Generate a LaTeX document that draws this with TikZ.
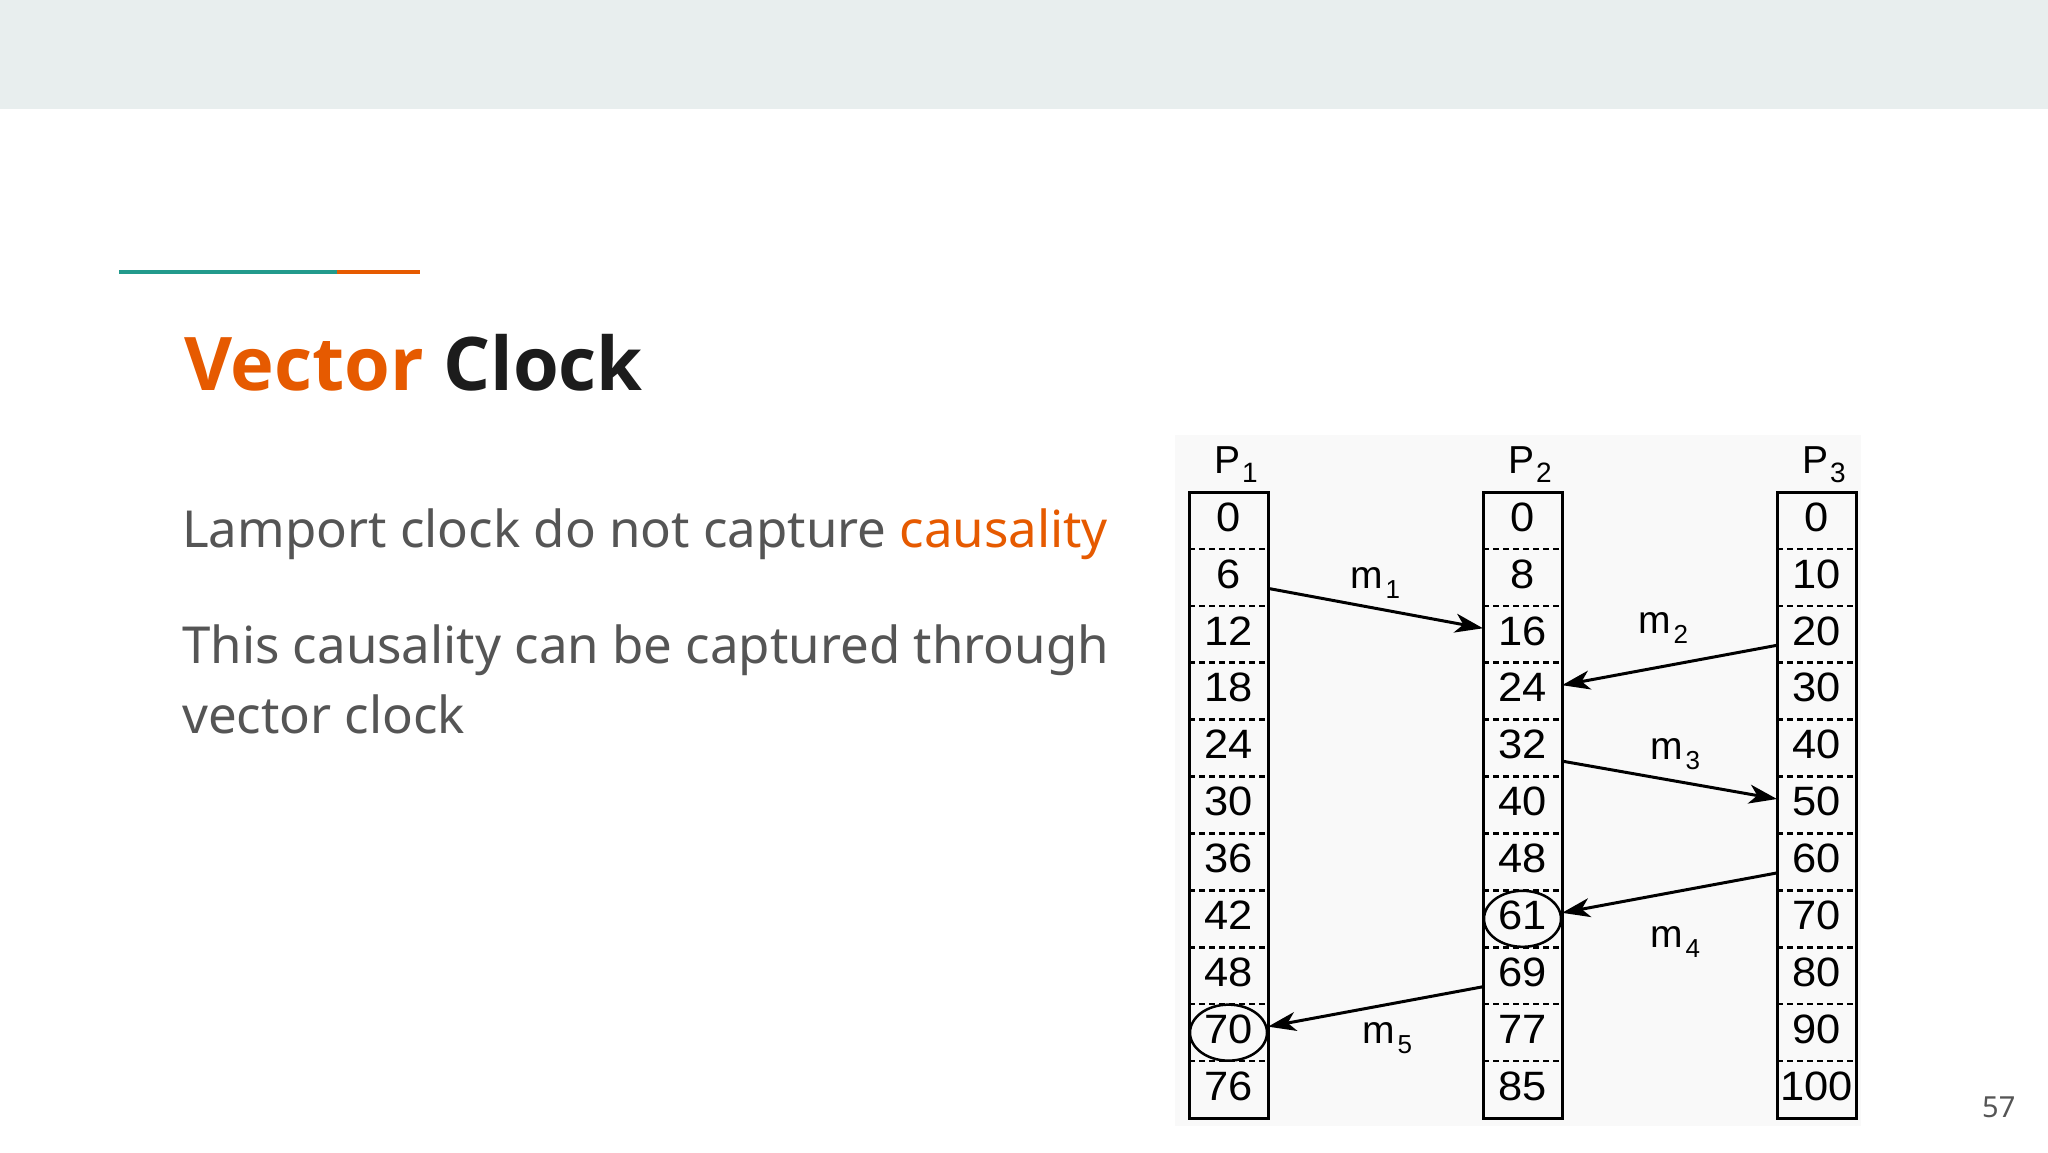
\documentclass[tikz,border=0pt]{standalone}
\usepackage{fontspec}
\setmainfont{Noto Sans}
\newfontfamily\titlefont{Open Sans}
\newfontfamily\diagfont{Liberation Sans}[FakeStretch=1.06]
\newfontfamily\labfont{Liberation Sans}
\usetikzlibrary{arrows.meta,calc,shapes.geometric}
\definecolor{bandgray}{RGB}{232,238,238}
\definecolor{accent}{RGB}{230,90,0}
\definecolor{tealline}{RGB}{34,154,140}
\definecolor{titledark}{RGB}{28,28,28}
\definecolor{bodygray}{RGB}{85,85,85}
\definecolor{imgbg}{RGB}{249,249,249}
\newcommand\msub[1]{\kern3pt\raisebox{-10pt}{\fontsize{26}{26}\selectfont #1}}
\newcommand\psub[1]{\kern2pt\raisebox{-9pt}{\fontsize{28}{28}\selectfont #1}}
\tikzset{
 cell/.style={minimum width=79pt, minimum height=56.909pt, inner sep=0pt, outer sep=0pt,
   font=\diagfont\fontsize{41}{41}\selectfont, text height=29.5pt, text depth=8pt},
 colbox/.style={draw=black, line width=3pt},
 sepline/.style={line width=2.5pt, dash pattern=on 6pt off 4pt},
 msg/.style={line width=3pt, -{Stealth[length=28pt,width=19pt,inset=8pt]}},
 lbl/.style={anchor=base west, inner sep=0pt, font=\labfont\fontsize{39}{39}\selectfont},
 ring/.style={draw, ellipse, line width=2.5pt, minimum width=77pt, minimum height=56pt, inner sep=0pt},
 bodytext/.style={anchor=base west, inner sep=0pt, font=\fontsize{51}{51}\selectfont, text=bodygray},
}
\begin{document}
\begin{tikzpicture}[x=1pt,y=-1pt]
\useasboundingbox (0,0) rectangle (2048,1152);
\fill[white] (0,0) rectangle (2048,1152);
% top band
\fill[bandgray] (0,0) rectangle (2048,109);
% accent line
\draw[tealline, line width=4pt] (119,272) -- (337,272);
\draw[accent, line width=4pt] (337,272) -- (420,272);
% title
\node[anchor=base west, inner sep=0pt, font=\titlefont\bfseries\fontsize{74}{74}\selectfont] (title) at (184,390)
  {\textcolor{accent}{Vector} \textcolor{titledark}{Clock}};
% body
\node[bodytext] (l1) at (182,547) {Lamport clock do not capture \textcolor{accent}{causality}};
\node[bodytext] (l2) at (182,663) {This causality can be captured through};
\node[bodytext] (l3) at (182,733) {vector clock};
% page number
\node[anchor=base west, inner sep=0pt, font=\fontsize{29}{29}\selectfont, text=bodygray] (pg) at (1982,1117) {57};
% diagram background
\fill[imgbg] (1175,435) rectangle (1861,1126);
% cells
\foreach \v [count=\i from 0] in {0,6,12,18,24,30,36,42,48,70,76}
  \node[cell] (p1r\i) at (1228.5,{492+56.909*(\i+0.5)}) {\v};
\foreach \v [count=\i from 0] in {0,8,16,24,32,40,48,61,69,77,85}
  \node[cell] (p2r\i) at (1522.5,{492+56.909*(\i+0.5)}) {\v};
\foreach \v [count=\i from 0] in {0,10,20,30,40,50,60,70,80,90,100}
  \node[cell] (p3r\i) at (1816.5,{492+56.909*(\i+0.5)}) {\v};
% separators
\foreach \p in {1,2,3}{
  \foreach \i in {0,...,9}
    \draw[sepline] (p\p r\i.south west) -- (p\p r\i.south east);
  \draw[colbox] (p\p r0.north west) rectangle (p\p r10.south east);
}
% headers
\node[lbl] (P1) at (1214,473) {P\psub{1}};
\node[lbl] (P2) at (1508,473) {P\psub{2}};
\node[lbl] (P3) at (1802,473) {P\psub{3}};
% circles
\node[ring] (c61) at (p2r7) {};
\node[ring] (c70) at (p1r9) {};
% messages
\draw[msg] ([yshift=-11pt]p1r1.east) -- ([yshift=6pt]p2r2.west);
\draw[msg] ([yshift=-11pt]p3r2.west) -- ([yshift=6pt]p2r3.east);
\draw[msg] ([yshift=-13pt]p2r4.east) -- ([yshift=6pt]p3r5.west);
\draw[msg] ([yshift=-11pt]p3r6.west) -- ([yshift=6pt]p2r7.east);
\draw[msg] ([yshift=-11pt]p2r8.west) -- ([yshift=6pt]p1r9.east);
% message labels
\node[lbl] (m1) at (1350,588) {m\msub{1}};
\node[lbl] (m2) at (1638,633) {m\msub{2}};
\node[lbl] (m3) at (1650,759) {m\msub{3}};
\node[lbl] (m4) at (1650,947) {m\msub{4}};
\node[lbl] (m5) at (1362,1043) {m\msub{5}};
\end{tikzpicture}
\end{document}
